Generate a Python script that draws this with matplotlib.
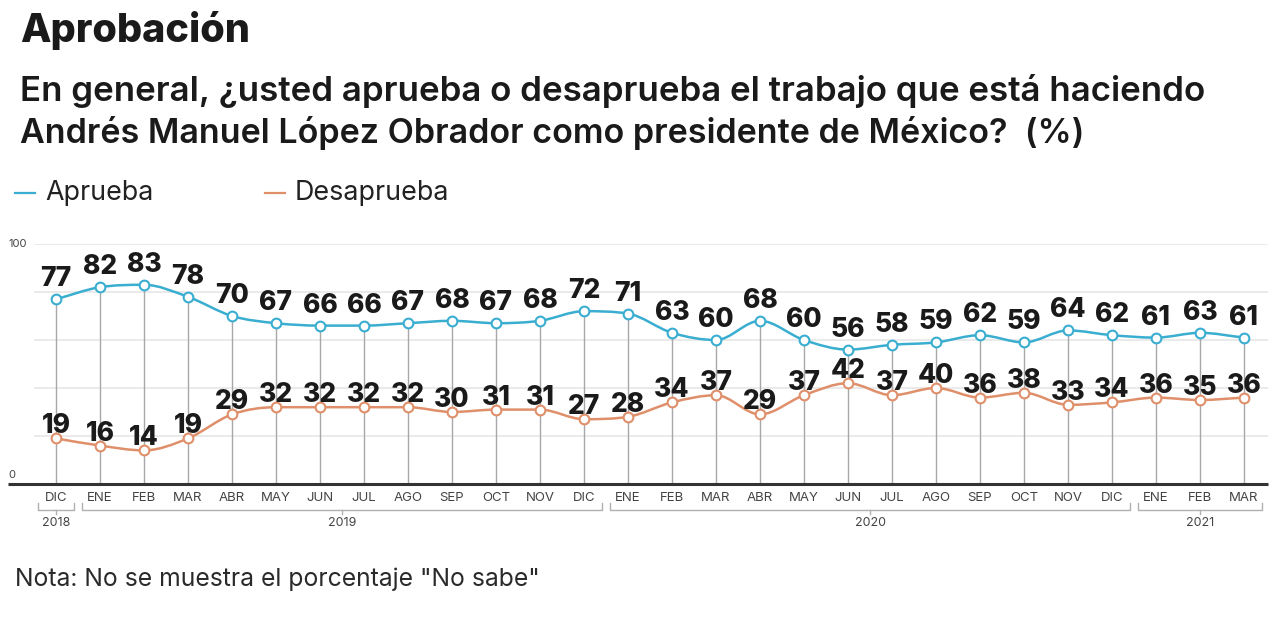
import numpy as np
import matplotlib
matplotlib.use("Agg")
import matplotlib.pyplot as plt
from matplotlib.path import Path
from matplotlib.patches import PathPatch

months = ["DIC", "ENE", "FEB", "MAR", "ABR", "MAY", "JUN", "JUL", "AGO", "SEP", "OCT", "NOV", "DIC",
          "ENE", "FEB", "MAR", "ABR", "MAY", "JUN", "JUL", "AGO", "SEP", "OCT", "NOV", "DIC",
          "ENE", "FEB", "MAR"]
years = ["2018", "2019", "2020", "2021"]
year_first = [0, 1, 13, 25]
year_last = [0, 12, 24, 27]
aprueba = [77, 82, 83, 78, 70, 67, 66, 66, 67, 68, 67, 68, 72, 71, 63, 60, 68, 60, 56, 58, 59, 62, 59, 64, 62, 61, 63, 61]
desaprueba = [19, 16, 14, 19, 29, 32, 32, 32, 32, 30, 31, 31, 27, 28, 34, 37, 29, 37, 42, 37, 40, 36, 38, 33, 34, 36, 35, 36]

BLUE = "#3aaed0"
ORANGE = "#df8f6a"
DARK = "#1a1a1a"
HEAD = "Inter"
BODY = "Inter"

W, H = 1280, 623
fig = plt.figure(figsize=(12.8, 6.23), dpi=100)
fig.patch.set_facecolor("white")
renderer = fig.canvas.get_renderer()


def fx(x):
    return x / W


def fy(y):
    return 1 - y / H


def fit_text(x, y, s, width_px, **kw):
    t = fig.text(fx(x), fy(y), s, va="baseline", ha="left", fontsize=20, **kw)
    w = t.get_window_extent(renderer).width
    t.set_fontsize(20 * width_px / w)
    return t


x0px, x1px = 8, 1268
ytop, ybot = 244, 484
first, step = 56, 44
ax = fig.add_axes([fx(x0px), fy(ybot), (x1px - x0px) / W, (ybot - ytop) / H])
ax.set_xlim((x0px - first) / step, (x1px - first) / step)
ax.set_ylim(0, 100)
ax.axis("off")

n = len(months)
xs = np.arange(n)

# gridlines
for g in [20, 40, 60, 80, 100]:
    ax.plot([-0.5, (x1px - first) / step], [g, g], color="#e6e6e6", lw=1.2, zorder=0, solid_capstyle="butt")
ax.plot([(x0px - first) / step, (x1px - first) / step], [0, 0], color="#333333", lw=2.2, zorder=3,
        solid_capstyle="butt", clip_on=False)
ax.text(-1.09, 100, "100", fontsize=8, color="#444444", va="center", ha="left", family=BODY)
ax.text(-1.09, 1.5, "0", fontsize=8, color="#444444", va="bottom", ha="left", family=BODY)

# vertical lines
ax.vlines(xs, 0, aprueba, color="#a8a8a8", lw=1, zorder=1)


def monotone_path(x, y):
    x = np.asarray(x, float)
    y = np.asarray(y, float)
    h = np.diff(x)
    d = np.diff(y) / h
    m = np.zeros_like(y)
    m[0] = d[0]
    m[-1] = d[-1]
    for i in range(1, len(y) - 1):
        if d[i - 1] * d[i] <= 0:
            m[i] = 0
        else:
            m[i] = (d[i - 1] + d[i]) / 2
            a, b = m[i] / d[i - 1], m[i] / d[i]
            s = a * a + b * b
            if s > 9:
                t = 3 / np.sqrt(s)
                m[i] = t * (d[i - 1] + d[i]) / 2
    verts = [(x[0], y[0])]
    codes = [Path.MOVETO]
    for i in range(len(x) - 1):
        dx = h[i] / 3
        verts += [(x[i] + dx, y[i] + m[i] * dx), (x[i + 1] - dx, y[i + 1] - m[i + 1] * dx), (x[i + 1], y[i + 1])]
        codes += [Path.CURVE4] * 3
    return Path(verts, codes)


for vals, col, off in [(aprueba, BLUE, 13), (desaprueba, ORANGE, 5)]:
    ax.add_patch(PathPatch(monotone_path(xs, vals), facecolor="none", edgecolor=col, lw=1.8, zorder=4))
    ax.plot(xs, vals, "o", ms=7, mfc="white", mec=col, mew=1.5, zorder=5, clip_on=False)
    for i, v in enumerate(vals):
        ax.annotate(str(v), (i, v), xytext=(0, off * 0.72), textcoords="offset points",
                    ha="center", va="baseline", fontsize=19, fontweight="heavy", color=DARK,
                    family=HEAD, zorder=6, annotation_clip=False)

# month labels
for i, mth in enumerate(months):
    ax.annotate(mth, (i, 0), xytext=(0, -14 * 0.72), textcoords="offset points", ha="center",
                va="center", fontsize=9.5, color="#444444", family=BODY, annotation_clip=False)

# year brackets
tr = ax.get_xaxis_transform()
yb = -(510 - ybot) / (ybot - ytop)
yh = -(503 - ybot) / (ybot - ytop)
yt = -(514 - ybot) / (ybot - ytop)
yl = -(523 - ybot) / (ybot - ytop)
for yr, a, b in zip(years, year_first, year_last):
    l, r = a - 0.4, b + 0.4
    ax.plot([l, l, r, r], [yh, yb, yb, yh], transform=tr, color="#b0b0b0", lw=1, clip_on=False,
            solid_joinstyle="round")
    c = (a + b) / 2
    ax.plot([c, c], [yb, yt], transform=tr, color="#b0b0b0", lw=1, clip_on=False)
    ax.text(c, yl, yr, transform=tr, ha="center", va="center", fontsize=9, color="#444444", family=BODY)

# titles
fit_text(20, 42, "Aprobación", 230, fontweight="heavy", color=DARK, family=HEAD)
fit_text(20, 101, "En general, ¿usted aprueba o desaprueba el trabajo que está haciendo", 1187,
         fontweight="semibold", color=DARK, family=HEAD)
fit_text(20, 143, "Andrés Manuel López Obrador como presidente de México?  (%)", 1067,
         fontweight="semibold", color=DARK, family=HEAD)

# legend
for lx, tx, tw, label, col in [(15, 45, 108, "Aprueba", BLUE), (265, 295, 154, "Desaprueba", ORANGE)]:
    fig.lines.append(plt.Line2D([fx(lx), fx(lx + 20)], [fy(193), fy(193)], transform=fig.transFigure,
                                color=col, lw=1.6))
    fit_text(tx, 200, label, tw, color="#222222", family=BODY)

fit_text(15, 586, 'Nota: No se muestra el porcentaje "No sabe"', 525, color="#2a2a2a",
         family=BODY, fontweight="normal")

fig.savefig("out.png", dpi=100, facecolor="white")
